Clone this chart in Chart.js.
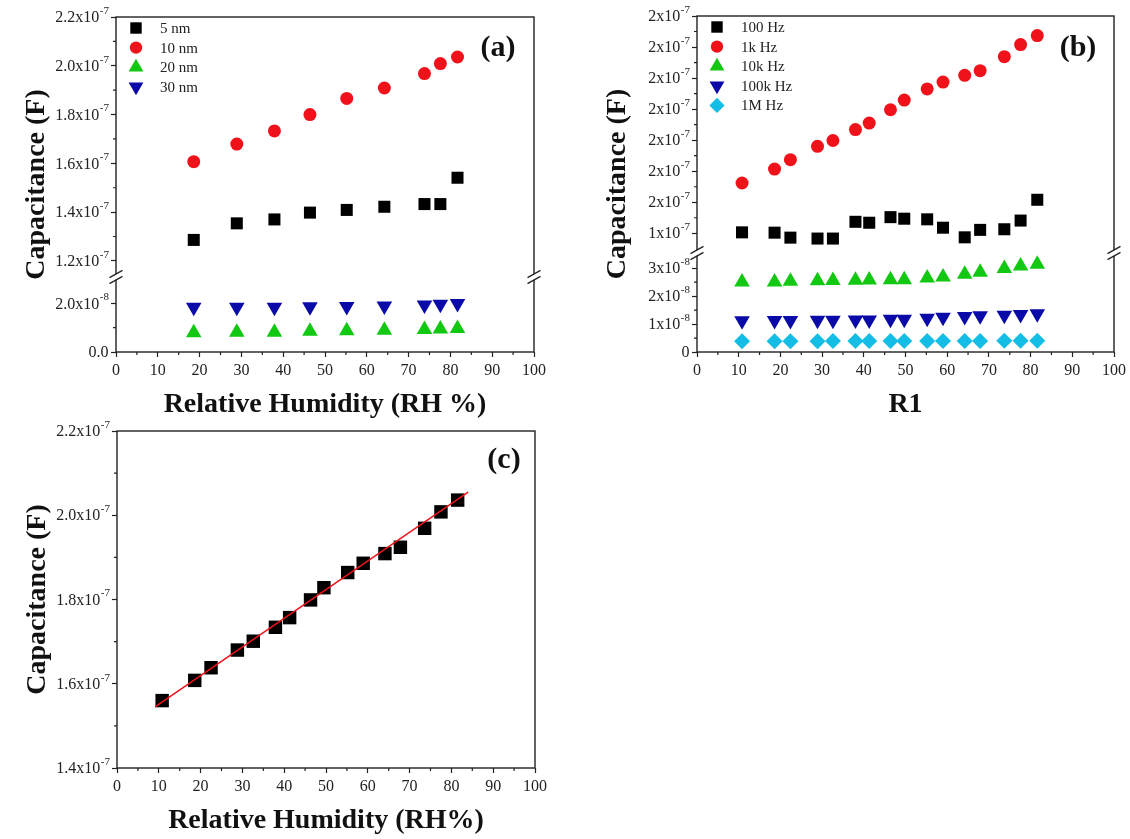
<!DOCTYPE html>
<html>
<head>
<meta charset="utf-8">
<script src="https://cdn.jsdelivr.net/npm/chart.js"></script>
<style>
html,body{margin:0;padding:0;background:#fff;}
#wrap{position:relative;width:1130px;height:839px;overflow:hidden;background:#fff;}
canvas{position:absolute;left:0;top:0;}
</style>
</head>
<body>
<div id="wrap">
<canvas id="ca" width="1130" height="839"></canvas>
<canvas id="cb" width="1130" height="839"></canvas>
<canvas id="cc" width="1130" height="839"></canvas>
</div>
<script>
// ---------- shared x axis ----------
const xTicks = [0, 10, 20, 30, 40, 50, 60, 70, 80, 90, 100];
const xTickLabels = ['0', '10', '20', '30', '40', '50', '60', '70', '80', '90', '100'];
const xMinorTicks = [5, 15, 25, 35, 45, 55, 65, 75, 85, 95];

// ---------- panel (a) ----------
const rhA = [18.6, 28.9, 37.9, 46.4, 55.2, 64.2, 73.8, 77.6, 81.7];
const cap5nm  = [1.286e-7, 1.354e-7, 1.370e-7, 1.398e-7, 1.409e-7, 1.422e-7, 1.433e-7, 1.433e-7, 1.541e-7];
const cap10nm = [1.607e-7, 1.679e-7, 1.733e-7, 1.800e-7, 1.866e-7, 1.909e-7, 1.968e-7, 2.009e-7, 2.036e-7];
const cap20nm = [0.79e-8, 0.81e-8, 0.81e-8, 0.85e-8, 0.87e-8, 0.89e-8, 0.92e-8, 0.94e-8, 0.96e-8];
const cap30nm = [1.84e-8, 1.84e-8, 1.84e-8, 1.86e-8, 1.87e-8, 1.89e-8, 1.93e-8, 1.96e-8, 1.99e-8];
const aUpperTicks  = [1.2e-7, 1.4e-7, 1.6e-7, 1.8e-7, 2.0e-7, 2.2e-7];
const aUpperLabels = ['1.2x10^-7', '1.4x10^-7', '1.6x10^-7', '1.8x10^-7', '2.0x10^-7', '2.2x10^-7'];
const aUpperMinor  = [1.3e-7, 1.5e-7, 1.7e-7, 1.9e-7, 2.1e-7];
const aLowerTicks  = [0, 2.0e-8];
const aLowerLabels = ['0.0', '2.0x10^-8'];
const aLowerMinor  = [1.0e-8];

// ---------- panel (b) ----------
const rhB = [10.8, 18.6, 22.4, 28.9, 32.6, 38.0, 41.3, 46.4, 49.7, 55.2, 59.0, 64.2, 67.9, 73.7, 77.6, 81.6];
const cap100Hz  = [1.403e-7, 1.402e-7, 1.386e-7, 1.383e-7, 1.383e-7, 1.437e-7, 1.434e-7, 1.452e-7, 1.447e-7, 1.445e-7, 1.418e-7, 1.387e-7, 1.411e-7, 1.413e-7, 1.441e-7, 1.508e-7];
const cap1kHz   = [1.562e-7, 1.607e-7, 1.637e-7, 1.680e-7, 1.699e-7, 1.734e-7, 1.755e-7, 1.798e-7, 1.829e-7, 1.865e-7, 1.887e-7, 1.909e-7, 1.924e-7, 1.969e-7, 2.008e-7, 2.037e-7];
const cap10kHz  = [2.51e-8, 2.51e-8, 2.53e-8, 2.55e-8, 2.56e-8, 2.57e-8, 2.58e-8, 2.59e-8, 2.59e-8, 2.65e-8, 2.69e-8, 2.78e-8, 2.86e-8, 2.99e-8, 3.08e-8, 3.14e-8];
const cap100kHz = [1.12e-8, 1.13e-8, 1.13e-8, 1.14e-8, 1.14e-8, 1.15e-8, 1.15e-8, 1.17e-8, 1.17e-8, 1.21e-8, 1.24e-8, 1.27e-8, 1.30e-8, 1.32e-8, 1.34e-8, 1.37e-8];
const cap1MHz   = [0.385e-8, 0.385e-8, 0.385e-8, 0.385e-8, 0.39e-8, 0.39e-8, 0.39e-8, 0.39e-8, 0.39e-8, 0.39e-8, 0.39e-8, 0.395e-8, 0.395e-8, 0.40e-8, 0.40e-8, 0.40e-8];
const bUpperTicks  = [1.4e-7, 1.5e-7, 1.6e-7, 1.7e-7, 1.8e-7, 1.9e-7, 2.0e-7, 2.1e-7];
const bUpperLabels = ['1x10^-7', '2x10^-7', '2x10^-7', '2x10^-7', '2x10^-7', '2x10^-7', '2x10^-7', '2x10^-7'];
const bUpperMinor  = [1.45e-7, 1.55e-7, 1.65e-7, 1.75e-7, 1.85e-7, 1.95e-7, 2.05e-7];
const bLowerTicks  = [0, 1e-8, 2e-8, 3e-8];
const bLowerLabels = ['0', '1x10^-8', '2x10^-8', '3x10^-8'];
const bLowerMinor  = [0.5e-8, 1.5e-8, 2.5e-8];

// ---------- panel (c) ----------
const rhC  = [10.8, 18.6, 22.5, 28.8, 32.6, 37.9, 41.3, 46.3, 49.5, 55.2, 58.9, 64.1, 67.8, 73.6, 77.5, 81.5];
const capC = [1.560e-7, 1.608e-7, 1.638e-7, 1.680e-7, 1.701e-7, 1.734e-7, 1.757e-7, 1.799e-7, 1.828e-7, 1.864e-7, 1.886e-7, 1.909e-7, 1.924e-7, 1.969e-7, 2.008e-7, 2.036e-7];
const fitX = [9.1, 84.0];
const fitY = [1.545e-7, 2.055e-7];
const cTicks  = [1.4e-7, 1.6e-7, 1.8e-7, 2.0e-7, 2.2e-7];
const cLabels = ['1.4x10^-7', '1.6x10^-7', '1.8x10^-7', '2.0x10^-7', '2.2x10^-7'];
const cMinor  = [1.5e-7, 1.7e-7, 1.9e-7, 2.1e-7];

// ---------- styling ----------
const FONT = '"Liberation Serif", "Times New Roman", "DejaVu Serif", serif';
const INK = '#222';
const COL = {black: '#000000', red: '#f0121a', green: '#12c812', blue: '#0a0aa8', cyan: '#14bde6'};

function pts(xs, ys) { return xs.map((x, i) => ({x: x, y: ys[i]})); }

function gridOpts() {
  return {drawOnChartArea: false, drawTicks: true, tickLength: 5, tickColor: INK, tickWidth: 1.2};
}
function yScale(min, max, ticks, labels, extra) {
  return Object.assign({
    type: 'linear', position: 'left', min: min, max: max,
    afterBuildTicks: s => { s.ticks = ticks.map(v => ({value: v})); },
    afterFit: s => { s.width = 116; },
    border: {display: false},
    grid: gridOpts(),
    tickText: labels,
    ticks: {display: false, autoSkip: false}
  }, extra || {});
}
function xScale(title) {
  return {
    type: 'linear', position: 'bottom', min: 0, max: 100,
    afterBuildTicks: s => { s.ticks = xTicks.map(v => ({value: v})); },
    afterFit: s => { s.height = 70; },
    border: {display: false},
    grid: gridOpts(),
    ticks: {callback: (v, i) => xTickLabels[i], autoSkip: false, maxRotation: 0, padding: 4, color: INK, font: {family: FONT, size: 16}},
    title: {display: true, text: title, color: '#111', padding: {top: 0, bottom: 0}, font: {family: FONT, size: 28, weight: 'bold'}}
  };
}
function ds(label, data, yAxisID, style, radius, color, rotation) {
  return {label: label, data: data, yAxisID: yAxisID, pointStyle: style, pointRadius: radius, pointHoverRadius: radius,
          pointRotation: rotation || 0, backgroundColor: color, borderColor: color, pointBorderWidth: 0, showLine: false};
}

function drawMarker(ctx, style, r, rot, x, y) {
  if (Chart.helpers && Chart.helpers.drawPoint) {
    Chart.helpers.drawPoint(ctx, {pointStyle: style, radius: r, rotation: rot, borderWidth: 0}, x, y);
  }
}

function decor(cfg) {
  return {
    id: 'decor_' + cfg.key,
    afterDraw(chart) {
      const ctx = chart.ctx, ca = chart.chartArea;
      ctx.save();
      ctx.strokeStyle = INK;
      ctx.lineWidth = 1.4;
      ctx.strokeRect(ca.left, ca.top, ca.right - ca.left, ca.bottom - ca.top);
      // minor ticks
      ctx.lineWidth = 1.2;
      ctx.beginPath();
      for (const id in cfg.minor) {
        const sc = chart.scales[id];
        for (const v of cfg.minor[id]) {
          const p = sc.getPixelForValue(v);
          if (sc.isHorizontal()) { ctx.moveTo(p, ca.bottom); ctx.lineTo(p, ca.bottom + 3); }
          else { ctx.moveTo(ca.left, p); ctx.lineTo(ca.left - 3, p); }
        }
      }
      ctx.stroke();
      // y tick labels with superscript exponents
      ctx.fillStyle = INK;
      ctx.textBaseline = 'middle';
      for (const id in chart.scales) {
        const sc = chart.scales[id];
        const txt = sc.options.tickText;
        if (!txt) continue;
        sc.ticks.forEach((t, i) => {
          const y = sc.getPixelForValue(t.value);
          const parts = String(txt[i]).split('^');
          const right = ca.left - 7;
          let expW = 0;
          if (parts[1]) {
            ctx.font = '11px ' + FONT;
            expW = ctx.measureText(parts[1]).width;
            ctx.textAlign = 'left';
            ctx.fillText(parts[1], right - expW, y - 6);
          }
          ctx.font = '16px ' + FONT;
          ctx.textAlign = 'right';
          ctx.fillText(parts[0], right - expW - 0.5, y + 1);
        });
      }
      // axis breaks
      if (cfg.breakScale) {
        const yb = chart.scales[cfg.breakScale].bottom;
        for (const x of [ca.left, ca.right]) {
          ctx.fillStyle = '#fff';
          ctx.fillRect(x - 2, yb - 2.8, 4, 5.6);
          ctx.beginPath();
          for (const o of [-3, 3]) { ctx.moveTo(x - 6.5, yb + o + 3.6); ctx.lineTo(x + 6.5, yb + o - 3.6); }
          ctx.lineWidth = 1.3;
          ctx.stroke();
        }
      }
      // y title
      ctx.fillStyle = '#111';
      ctx.font = 'bold 28px ' + FONT;
      ctx.textAlign = 'center';
      ctx.textBaseline = 'middle';
      ctx.save();
      ctx.translate(ca.left - 79, (ca.top + ca.bottom) / 2);
      ctx.rotate(-Math.PI / 2);
      ctx.fillText('Capacitance (F)', 0, 0);
      ctx.restore();
      // panel label
      ctx.font = 'bold 30px ' + FONT;
      ctx.fillText(cfg.label, ca.right - cfg.labelDx, ca.top + cfg.labelDy);
      // legend
      if (cfg.legend) {
        ctx.font = '15px ' + FONT;
        ctx.textAlign = 'left';
        cfg.legend.forEach((di, k) => {
          const d = chart.data.datasets[di];
          const y = ca.top + 11 + k * 19.6;
          ctx.fillStyle = d.backgroundColor;
          drawMarker(ctx, d.pointStyle, d.pointRadius * 0.95, d.pointRotation, ca.left + 20, y);
          ctx.fillStyle = INK;
          ctx.fillText(d.label, ca.left + 44, y + 1);
        });
      }
      ctx.restore();
    }
  };
}

const common = {responsive: false, animation: false, events: [],
  plugins: {legend: {display: false}, tooltip: {enabled: false}}};

// ---------- chart (a) ----------
new Chart(document.getElementById('ca'), {
  type: 'scatter',
  data: {datasets: [
    ds('5 nm',  pts(rhA, cap5nm),  'yU', 'rect', 8.5, COL.black),
    ds('10 nm', pts(rhA, cap10nm), 'yU', 'circle', 6.5, COL.red),
    ds('20 nm', pts(rhA, cap20nm), 'yL', 'triangle', 9, COL.green),
    ds('30 nm', pts(rhA, cap30nm), 'yL', 'triangle', 9, COL.blue, 180)
  ]},
  options: Object.assign({}, common, {
    layout: {padding: {left: 0, top: 17, right: 596, bottom: 417}},
    scales: {
      x: xScale('Relative Humidity (RH %)'),
      yL: yScale(0, 3.08e-8, aLowerTicks, aLowerLabels, {stack: 'a', stackWeight: 75, weight: 1}),
      yU: yScale(1.134e-7, 2.2e-7, aUpperTicks, aUpperLabels, {stack: 'a', stackWeight: 260, weight: 2})
    }
  }),
  plugins: [decor({key: 'a', label: '(a)', labelDx: 36, labelDy: 31, breakScale: 'yU',
    minor: {x: xMinorTicks, yU: aUpperMinor, yL: aLowerMinor}, legend: [0, 1, 2, 3]})]
});

// ---------- chart (b) ----------
new Chart(document.getElementById('cb'), {
  type: 'scatter',
  data: {datasets: [
    ds('100 Hz',  pts(rhB, cap100Hz),  'yU', 'rect', 8.5, COL.black),
    ds('1k Hz',   pts(rhB, cap1kHz),   'yU', 'circle', 6.5, COL.red),
    ds('10k Hz',  pts(rhB, cap10kHz),  'yL', 'triangle', 9, COL.green),
    ds('100k Hz', pts(rhB, cap100kHz), 'yL', 'triangle', 9, COL.blue, 180),
    ds('1M Hz',   pts(rhB, cap1MHz),   'yL', 'rectRot', 8, COL.cyan)
  ]},
  options: Object.assign({}, common, {
    layout: {padding: {left: 581, top: 16, right: 16, bottom: 417}},
    scales: {
      x: xScale('R1'),
      yL: yScale(0, 3.545e-8, bLowerTicks, bLowerLabels, {stack: 'b', stackWeight: 99, weight: 1}),
      yU: yScale(1.3365e-7, 2.1e-7, bUpperTicks, bUpperLabels, {stack: 'b', stackWeight: 237, weight: 2})
    }
  }),
  plugins: [decor({key: 'b', label: '(b)', labelDx: 36, labelDy: 32, breakScale: 'yU',
    minor: {x: xMinorTicks, yU: bUpperMinor, yL: bLowerMinor}, legend: [0, 1, 2, 3, 4]})]
});

// ---------- chart (c) ----------
new Chart(document.getElementById('cc'), {
  type: 'scatter',
  data: {datasets: [
    {label: 'fit', data: pts(fitX, fitY), yAxisID: 'y', showLine: true, borderColor: COL.red, borderWidth: 1.5,
     pointRadius: 0, pointHoverRadius: 0, backgroundColor: COL.red, order: 0},
    Object.assign(ds('data', pts(rhC, capC), 'y', 'rect', 9.5, COL.black), {order: 1})
  ]},
  options: Object.assign({}, common, {
    layout: {padding: {left: 1, top: 431, right: 595, bottom: 1}},
    scales: {
      x: xScale('Relative Humidity (RH%)'),
      y: yScale(1.4e-7, 2.2e-7, cTicks, cLabels)
    }
  }),
  plugins: [decor({key: 'c', label: '(c)', labelDx: 31, labelDy: 29, breakScale: null,
    minor: {x: xMinorTicks, y: cMinor}, legend: null})]
});
</script>
</body>
</html>
